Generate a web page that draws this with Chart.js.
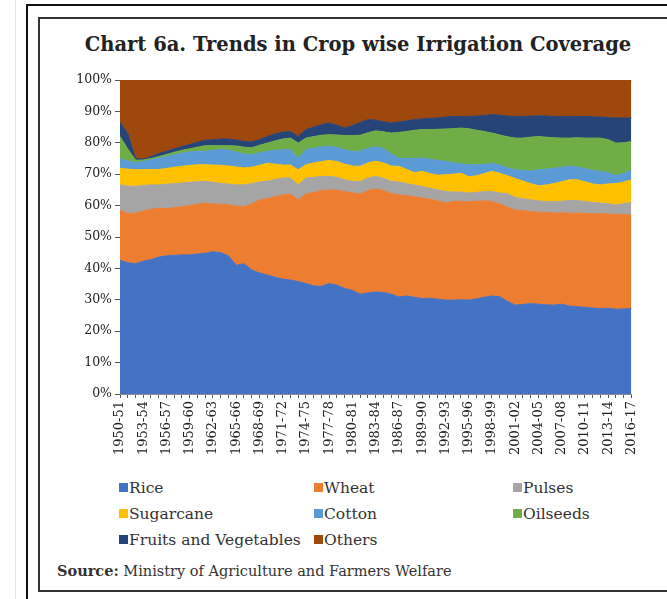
<!DOCTYPE html>
<html>
<head>
<meta charset="utf-8">
<script src="https://cdn.jsdelivr.net/npm/chart.js@4/dist/chart.umd.min.js"></script>
<style>
  html, body { margin: 0; padding: 0; background: #fff; }
  body { width: 667px; height: 599px; position: relative; overflow: hidden; font-family: "DejaVu Serif", serif; }
  #rule { position: absolute; left: 15px; top: 0; width: 1px; height: 599px; background: #e4e4e4; }
  #outer { position: absolute; left: 26px; top: 4px; width: 700px; height: 700px; border-left: 2px solid #111; border-top: 2px solid #111; }
  #frame { position: absolute; left: 38px; top: 17px; width: 700px; height: 571px; border: 2px solid #333; border-right: none; }
  #title { position: absolute; left: 40px; top: 32px; width: 636px; line-height: 26px; text-align: center; font-weight: bold; font-size: 19.5px; color: #222; }
  #plot { position: absolute; left: 40px; top: 60px; width: 610px; height: 404px; }
  .leg { position: absolute; font-size: 15.5px; line-height: 18px; color: #333; white-space: nowrap; }
  .leg i { display: inline-block; width: 9px; height: 9px; margin-right: 1px; vertical-align: 1px; }
  #source { position: absolute; left: 57px; top: 562px; font-size: 14.5px; line-height: 18px; color: #333; }
</style>
</head>
<body>
<div id="rule"></div>
<div id="outer"></div>
<div id="frame"></div>
<div id="title">Chart 6a. Trends in Crop wise Irrigation Coverage</div>
<div id="plot"><canvas id="cropChart"></canvas></div>
<div id="legend"></div>
<div id="source"><b>Source:</b> Ministry of Agriculture and Farmers Welfare</div>

<script>
// Years 1950-51 ... 2016-17
const years = [
  "1950-51","1951-52","1952-53","1953-54","1954-55","1955-56","1956-57","1957-58","1958-59","1959-60",
  "1960-61","1961-62","1962-63","1963-64","1964-65","1965-66","1966-67","1967-68","1968-69","1969-70",
  "1970-71","1971-72","1972-73","1973-74","1974-75","1975-76","1976-77","1977-78","1978-79","1979-80",
  "1980-81","1981-82","1982-83","1983-84","1984-85","1985-86","1986-87","1987-88","1988-89","1989-90",
  "1990-91","1991-92","1992-93","1993-94","1994-95","1995-96","1996-97","1997-98","1998-99","1999-00",
  "2000-01","2001-02","2002-03","2003-04","2004-05","2005-06","2006-07","2007-08","2008-09","2009-10",
  "2010-11","2011-12","2012-13","2013-14","2014-15","2015-16","2016-17"
];

// share of irrigated area, per cent
const rice = [42.6,41.8,41.5,42.3,42.8,43.6,44.0,44.2,44.3,44.3,44.6,44.8,45.3,45.0,44.0,41.0,41.5,39.5,38.5,37.9,
  37.2,36.6,36.3,35.8,35.2,34.4,34.3,35.2,34.6,33.6,33.0,31.8,32.2,32.5,32.3,31.8,30.9,31.2,30.8,30.4,
  30.5,30.2,29.9,29.9,30.0,29.9,30.3,30.8,31.2,31.0,29.5,28.3,28.5,28.8,28.6,28.4,28.3,28.6,28.0,27.8,
  27.6,27.4,27.2,27.3,27.0,27.1,27.2];
const wheat = [15.9,15.7,16.1,16.0,16.0,15.6,15.0,15.2,15.3,15.7,15.8,16.0,15.2,15.4,16.3,18.8,18.1,21.1,23.3,24.3,
  25.6,26.8,27.4,26.0,28.5,29.8,30.5,29.8,30.3,30.9,31.0,31.9,32.6,32.8,32.5,32.0,32.5,32.0,32.0,32.0,
  31.5,31.3,30.9,31.4,31.4,31.3,31.1,30.7,30.1,29.5,30.0,30.3,29.9,29.3,29.3,29.4,29.3,29.1,29.6,29.8,
  29.9,30.0,30.2,30.0,30.2,30.0,29.8];
const pulses = [8.1,8.7,8.5,8.1,7.8,7.4,7.8,7.6,7.6,7.4,7.2,6.9,6.9,6.7,6.5,6.8,7.0,6.4,5.7,5.6,
  5.5,5.4,5.1,4.8,5.1,4.8,4.5,4.3,4.1,3.7,3.7,4.0,4.0,4.0,3.9,3.9,4.1,3.8,3.7,3.7,
  3.5,3.5,3.7,3.0,2.9,2.8,2.8,3.0,3.2,3.5,4.3,4.0,3.8,3.7,3.6,3.5,3.6,3.7,4.0,4.0,
  3.8,3.6,3.4,3.3,3.0,3.5,4.0];
const sugarcane = [5.3,5.4,5.3,5.0,4.9,4.9,5.0,5.2,5.3,5.4,5.4,5.3,5.5,5.7,5.8,5.7,5.4,5.2,5.3,5.7,
  4.9,4.1,4.1,4.8,4.2,4.6,4.7,5.1,5.0,5.0,4.9,4.8,4.8,4.8,4.9,4.9,5.0,4.5,4.0,4.8,
  4.7,4.7,5.3,5.7,6.0,5.2,5.3,5.7,6.4,6.3,5.7,6.0,5.6,5.2,4.8,5.3,5.8,6.2,6.6,6.6,
  6.3,5.9,5.8,6.3,6.8,6.9,7.2];
const cotton = [3.1,2.6,2.3,2.6,3.1,3.6,3.8,4.0,4.2,4.3,4.3,4.3,4.7,5.1,5.1,4.7,4.4,4.0,4.0,3.8,
  4.4,4.9,4.9,3.7,4.8,4.7,4.7,4.5,4.5,4.6,4.7,4.8,4.7,4.6,4.6,3.9,2.6,3.5,4.6,4.2,
  4.6,4.7,4.3,3.6,3.0,3.8,3.5,2.9,2.6,2.6,2.5,2.8,3.4,4.0,5.1,5.0,4.9,4.6,4.3,4.1,
  4.2,4.3,4.3,3.5,2.6,2.7,3.2];
const oilseeds = [7.0,3.8,0.8,0.5,0.4,0.5,0.7,0.8,0.9,1.0,1.3,1.8,1.5,1.2,1.4,2.0,2.2,2.2,2.4,2.6,
  3.0,3.4,3.7,4.8,3.7,3.7,3.7,3.7,4.0,4.5,5.0,5.1,4.9,5.1,5.3,6.6,8.2,8.6,8.9,9.1,
  9.4,9.9,10.3,10.9,11.4,11.5,11.0,10.5,9.6,9.6,9.9,10.1,10.3,10.8,10.6,10.2,9.7,9.3,9.0,9.3,
  9.7,10.3,10.6,10.6,10.3,9.8,9.0];
const fruitsVeg = [4.5,5.0,0.5,0.3,0.6,1.0,1.0,1.1,1.2,1.4,1.6,1.7,1.9,2.1,2.1,1.9,1.8,1.9,1.8,2.1,
  2.2,2.2,2.1,2.1,2.7,3.0,3.4,3.7,3.1,2.4,3.2,4.1,4.2,3.4,3.2,3.2,3.3,3.4,3.4,3.4,
  3.6,3.6,3.8,3.9,3.7,3.9,4.5,5.1,5.9,6.3,6.6,6.9,6.9,6.7,6.6,6.7,6.8,6.9,6.9,6.8,
  6.9,6.8,6.7,7.0,8.0,7.9,7.5];
const others = [13.5,17.0,25.0,25.2,24.4,23.4,22.7,21.9,21.2,20.5,19.8,19.2,19.0,18.8,18.8,19.1,19.6,19.7,19.0,18.0,
  17.2,16.6,16.4,18.0,15.8,15.0,14.2,13.7,14.4,15.3,14.5,13.5,12.6,12.8,13.3,13.7,13.4,13.0,12.6,12.4,
  12.2,12.1,11.8,11.6,11.6,11.6,11.5,11.3,11.0,11.2,11.5,11.6,11.6,11.5,11.4,11.5,11.6,11.6,11.6,11.6,
  11.6,11.7,11.8,12.0,12.1,12.1,12.1];

const series = [
  { label: "Rice", data: rice, color: "#4472C4" },
  { label: "Wheat", data: wheat, color: "#ED7D31" },
  { label: "Pulses", data: pulses, color: "#A5A5A5" },
  { label: "Sugarcane", data: sugarcane, color: "#FFC000" },
  { label: "Cotton", data: cotton, color: "#5B9BD5" },
  { label: "Oilseeds", data: oilseeds, color: "#70AD47" },
  { label: "Fruits and Vegetables", data: fruitsVeg, color: "#264478" },
  { label: "Others", data: others, color: "#9E480E" }
];

const axisColor = "#8c8c8c";

const ctx = document.getElementById("cropChart").getContext("2d");
const chart = new Chart(ctx, {
  type: "line",
  data: {
    labels: years,
    datasets: series.map((s, i) => ({
      label: s.label,
      data: s.data,
      backgroundColor: s.color,
      borderColor: s.color,
      borderWidth: 1,
      pointRadius: 0,
      tension: 0,
      fill: i === 0 ? "origin" : "-1"
    }))
  },
  options: {
    responsive: true,
    maintainAspectRatio: false,
    animation: false,
    layout: { padding: { top: 20, right: 13, left: 0, bottom: 0 } },
    plugins: { legend: { display: false }, tooltip: { enabled: false } },
    scales: {
      x: {
        offset: false,
        grid: { display: true, drawOnChartArea: false, drawTicks: true, tickLength: 4, color: "#555" },
        border: { display: true, color: axisColor },
        ticks: {
          autoSkip: false,
          minRotation: 90,
          maxRotation: 90,
          padding: 3,
          color: "#222",
          font: { family: "DejaVu Serif", size: 13 },
          callback: function (val, idx) { return idx % 3 === 0 ? this.getLabelForValue(val) : ""; }
        },
        afterFit: (scale) => { scale.height = 70; }
      },
      y: {
        stacked: true,
        min: 0,
        max: 100,
        grid: { display: true, drawOnChartArea: false, drawTicks: true, tickLength: 5, color: "#555" },
        border: { display: true, color: axisColor },
        ticks: {
          stepSize: 10, padding: 3, color: "#222",
          font: { family: "DejaVu Serif", size: 12.5 },
          callback: (v) => v + "%"
        },
        afterFit: (scale) => { scale.width = 80; }
      }
    }
  }
});

// three-column legend under the chart
const legendCols = [119, 314, 513];
const legendRows = [479, 505, 531];
const legendBox = document.getElementById("legend");
chart.data.datasets.forEach((ds, i) => {
  const item = document.createElement("div");
  item.className = "leg";
  item.style.left = legendCols[i % 3] + "px";
  item.style.top = legendRows[Math.floor(i / 3)] + "px";
  item.innerHTML = '<i style="background:' + ds.backgroundColor + '"></i>' + ds.label;
  legendBox.appendChild(item);
});
</script>
</body>
</html>
